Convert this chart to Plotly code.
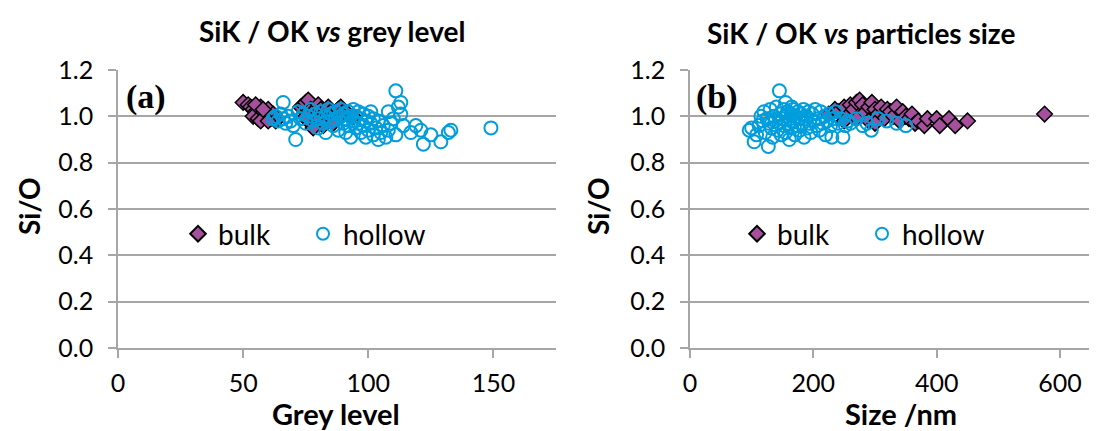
import plotly.graph_objects as go

# Si/O ratio vs grey level (panel a) and vs particle size (panel b)
# bulk particles
bulk_grey = [50, 52, 53, 54, 55, 56, 54, 56, 57, 58, 59, 60, 61, 62, 63, 57, 55, 58, 60,
             73, 74, 75, 76, 77, 78, 76, 75, 77, 79, 80, 81, 82, 83, 84, 85, 86, 88, 89, 90, 92, 94, 80, 82, 78, 86]
bulk_grey_sio = [1.06, 1.05, 1.04, 1.03, 1.02, 1.01, 1.00, 0.99, 1.04, 1.02, 1.00, 1.03, 0.99, 1.01, 0.98, 0.98, 1.05, 1.03, 0.98,
                 1.04, 1.05, 1.06, 1.07, 1.03, 1.02, 0.98, 1.00, 0.97, 1.00, 1.05, 1.03, 1.01, 0.99, 1.04, 1.02, 1.00, 1.03, 1.04, 1.02, 1.01, 1.00, 0.98, 0.96, 0.95, 0.97]

# hollow particles
hollow_grey = [62, 63, 64, 65, 66, 66, 67, 68, 69, 70, 71, 72, 73, 74, 75, 76, 77, 78, 79, 80,
               80, 81, 82, 83, 83, 84, 85, 85, 86, 87, 87, 88, 89, 89, 90, 90, 91, 91, 92, 92,
               93, 93, 94, 94, 95, 95, 96, 96, 97, 97, 98, 98, 99, 99, 100, 100, 101, 101, 102, 102,
               103, 104, 104, 105, 106, 107, 108, 108, 109, 110, 111, 111, 112, 113, 113, 114, 117, 119, 121, 122,
               125, 129, 132, 133, 149]
hollow_grey_sio = [0.99, 1.00, 0.98, 1.01, 1.06, 0.99, 0.97, 1.00, 0.98, 0.96, 0.90, 1.02, 0.99, 1.01, 0.97, 1.00, 1.03, 0.98, 1.01, 0.99,
                   0.95, 1.02, 0.97, 1.00, 0.93, 1.03, 0.98, 1.01, 0.96, 1.02, 0.99, 0.94, 1.00, 1.03, 0.97, 1.01, 0.99, 0.93, 1.02, 0.96,
                   1.00, 0.91, 0.98, 1.03, 0.95, 1.00, 0.97, 1.02, 0.99, 0.93, 1.01, 0.96, 0.98, 0.91, 1.00, 0.94, 0.97, 1.02, 0.99, 0.92,
                   0.95, 0.98, 0.90, 0.93, 0.96, 0.91, 1.02, 0.94, 0.97, 0.99, 1.11, 0.92, 1.04, 1.06, 1.01, 0.96, 0.93, 0.96, 0.94, 0.88,
                   0.92, 0.89, 0.93, 0.94, 0.95]

# panel b
bulk_size = [225, 235, 240, 250, 255, 260, 265, 270, 275, 280, 285, 290, 295, 300, 305, 310, 315, 320, 325, 330,
             335, 340, 345, 350, 355, 360, 365, 370, 380, 385, 400, 405, 420, 430, 450, 575, 290, 270, 250, 300]
bulk_size_sio = [1.01, 1.03, 1.02, 1.04, 1.00, 1.05, 1.03, 1.06, 1.07, 1.05, 1.02, 1.04, 1.06, 1.03, 1.01, 1.04, 0.99, 1.03, 1.02, 1.00,
                 1.04, 0.98, 1.02, 1.00, 0.99, 1.01, 0.97, 0.98, 0.96, 0.99, 0.99, 0.96, 0.99, 0.96, 0.98, 1.01, 0.98, 0.99, 0.98, 0.97]

hollow_size = [96, 100, 104, 108, 112, 115, 118, 120, 122, 125, 127, 128, 130, 132, 134, 136, 138, 140, 142, 144,
               145, 146, 148, 150, 152, 153, 155, 156, 158, 160, 161, 162, 164, 165, 167, 168, 170, 172, 174, 175,
               177, 178, 180, 182, 184, 185, 187, 189, 190, 192, 194, 196, 198, 200, 203, 205, 208, 210, 212, 215,
               218, 220, 222, 225, 228, 230, 233, 236, 240, 244, 248, 252, 256, 260, 270, 280, 287, 294, 305, 319,
               335, 350, 155, 165]
hollow_size_sio = [0.94, 0.95, 0.89, 0.92, 0.96, 1.00, 0.98, 1.02, 0.93, 0.99, 0.87, 0.97, 1.03, 0.95, 0.91, 1.00, 0.98, 1.04, 0.94, 0.97,
                   1.11, 1.01, 0.92, 0.99, 1.03, 0.96, 0.93, 1.00, 1.02, 0.97, 0.90, 0.99, 1.01, 0.95, 1.03, 0.98, 0.92, 1.00, 0.96, 1.02,
                   0.99, 0.94, 1.01, 0.97, 1.03, 0.91, 0.99, 1.00, 0.95, 1.02, 0.97, 0.93, 1.01, 0.98, 1.03, 0.96, 0.99, 0.94, 1.02, 0.97,
                   1.00, 0.92, 0.98, 1.01, 0.96, 0.91, 0.99, 1.02, 0.97, 0.99, 0.91, 0.96, 0.98, 0.97, 0.99, 0.96, 0.97, 0.94, 0.99, 0.98,
                   0.97, 0.96, 1.06, 1.04]

bulk_color = "#A64F9D"
hollow_color = "#009DDC"
grid_color = "#A6A6A6"
font_name = "Lato"

W, H = 1097, 431
OFF = 8  # page body margin shifts the figure by 8px


def px_x(X):
    # screenshot pixel -> paper fraction
    return (X - OFF) / W


def px_y(Y):
    return (H - (Y - OFF)) / H


fig = go.Figure()

# panel (a)
fig.add_trace(go.Scatter(x=bulk_grey, y=bulk_grey_sio, mode="markers", name="bulk", legend="legend",
                         marker=dict(symbol="diamond", size=12, color=bulk_color, line=dict(color="black", width=1.5)),
                         xaxis="x", yaxis="y"))
fig.add_trace(go.Scatter(x=hollow_grey, y=hollow_grey_sio, mode="markers", name="hollow", legend="legend",
                         marker=dict(symbol="circle-open", size=13, color=hollow_color, line=dict(width=2)),
                         xaxis="x", yaxis="y"))

# panel (b)
fig.add_trace(go.Scatter(x=bulk_size, y=bulk_size_sio, mode="markers", name="bulk", legend="legend2",
                         marker=dict(symbol="diamond", size=12, color=bulk_color, line=dict(color="black", width=1.5)),
                         xaxis="x2", yaxis="y2"))
fig.add_trace(go.Scatter(x=hollow_size, y=hollow_size_sio, mode="markers", name="hollow", legend="legend2",
                         marker=dict(symbol="circle-open", size=13, color=hollow_color, line=dict(width=2)),
                         xaxis="x2", yaxis="y2"))

xcommon = dict(showgrid=False, zeroline=False, showline=True, linecolor=grid_color, linewidth=1.5,
               ticks="outside", ticklen=8, tickcolor=grid_color, tickwidth=1.5, automargin=False,
               tickfont=dict(family=font_name, size=25, color="black"), ticklabelstandoff=4)
ycommon = dict(range=[0, 1.2], dtick=0.2, tickformat=".1f", showgrid=True, gridcolor=grid_color, gridwidth=1.5,
               zeroline=False, showline=True, linecolor=grid_color, linewidth=1.5, automargin=False,
               ticks="outside", ticklen=8, tickcolor=grid_color, tickwidth=1.5,
               tickfont=dict(family=font_name, size=25, color="black"), ticklabelstandoff=10)

ydom = [px_y(348), px_y(70)]

fig.update_layout(
    width=W, height=H,
    margin=dict(l=0, r=0, t=0, b=0, autoexpand=False),
    paper_bgcolor="white", plot_bgcolor="white",
    font=dict(family=font_name, color="black"),
    xaxis=dict(domain=[px_x(118), px_x(556)], range=[0, 175], dtick=50, anchor="y", **xcommon),
    yaxis=dict(domain=ydom, anchor="x", **ycommon),
    xaxis2=dict(domain=[px_x(690), 1.0], range=[0, 673], dtick=200, anchor="y2", **xcommon),
    yaxis2=dict(domain=ydom, anchor="x2", **ycommon),
    legend=dict(orientation="h", x=px_x(178), y=px_y(234), xanchor="left", yanchor="middle",
                bgcolor="rgba(0,0,0,0)", font=dict(size=28), entrywidth=80, itemsizing="constant"),
    legend2=dict(orientation="h", x=px_x(737), y=px_y(234), xanchor="left", yanchor="middle",
                 bgcolor="rgba(0,0,0,0)", font=dict(size=28), entrywidth=80, itemsizing="constant"),
    showlegend=True,
)

# titles, axis labels and panel letters (positions in screenshot pixels)
fig.add_annotation(text="<b>SiK / OK <i>vs</i> grey level</b>", x=332, y=31, font=dict(size=28))
fig.add_annotation(text="<b>SiK / OK <i>vs</i> particles size</b>", x=861, y=33, font=dict(size=28))
fig.add_annotation(text="<b>Grey level</b>", x=336, y=413, font=dict(size=29))
fig.add_annotation(text="<b>Size /nm</b>", x=901, y=413, font=dict(size=29))
fig.add_annotation(text="<b>Si/O</b>", x=29, y=206, textangle=-90, font=dict(size=28))
fig.add_annotation(text="<b>Si/O</b>", x=598, y=206, textangle=-90, font=dict(size=28))
fig.add_annotation(text="<b>(a)</b>", x=146, y=97, font=dict(size=34, family="Liberation Serif"))
fig.add_annotation(text="<b>(b)</b>", x=717, y=97, font=dict(size=34, family="Liberation Serif"))

for a in fig.layout.annotations:
    a.x = px_x(a.x)
    a.y = px_y(a.y)
    a.xref = "paper"
    a.yref = "paper"
    a.xanchor = "center"
    a.yanchor = "middle"
    a.showarrow = False

fig.write_html("out.html")
